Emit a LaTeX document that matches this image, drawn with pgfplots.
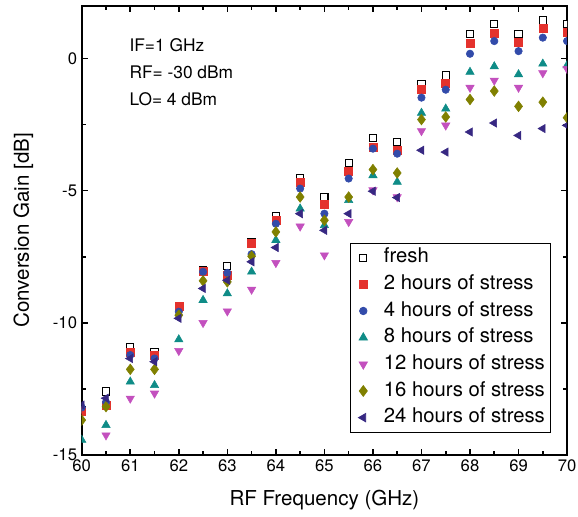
\documentclass[border=0pt]{standalone}
\usepackage{fontspec}
\setmainfont{TeX Gyre Heros}
\usepackage{pgfplots}
\pgfplotsset{compat=1.18}

\definecolor{cred}{RGB}{228,50,45}
\definecolor{cblue}{RGB}{50,75,170}
\definecolor{cteal}{RGB}{15,140,135}
\definecolor{cmag}{RGB}{195,80,190}
\definecolor{colive}{RGB}{128,128,0}
\definecolor{cind}{RGB}{55,40,130}

\begin{document}
\begin{tikzpicture}
\useasboundingbox (0pt,0pt) rectangle (433.5pt,387.75pt);
\begin{axis}[
    at={(61.3pt,46.5pt)}, anchor=south west,
    scale only axis, width=364pt, height=337pt,
    xmin=60, xmax=70, ymin=-15, ymax=2,
    xtick={60,61,...,70}, minor x tick num=1,
    ytick={-15,-10,-5,0}, minor y tick num=1,
    tick align=inside,
    major tick length=4.5pt, minor tick length=3pt,
    axis line style={line width=1.6pt},
    every tick/.style={line width=1.2pt, black},
    /pgf/number format/assume math mode=true,
    ticklabel style={font=\fontsize{12.5}{14}\selectfont},
    xlabel={RF Frequency (GHz)},
    ylabel={Conversion Gain [dB]},
    label style={font=\fontsize{15.4}{18}\selectfont},
    xlabel style={yshift=-7pt},
    ylabel style={yshift=8pt},
    clip marker paths=true,
    legend image code/.code={\path[draw=none] (0pt,0pt) -- (18pt,0pt);
        \path[#1, draw=none, fill=none] plot[only marks] coordinates {(9pt,0pt)};},
    legend style={at={(0.966,0.0496)}, anchor=south east,
        draw=black, line width=0.6pt,
        font=\fontsize{15.2}{17}\selectfont,
        cells={anchor=west},
        nodes={inner ysep=3.1pt, inner xsep=3pt, text height=10.8pt, text depth=3pt},
        row sep=0pt, column sep=3.5pt, inner sep=1pt},
    legend cell align=left,
]

% fresh
\addplot[only marks, mark=square*, mark size=2.7pt, mark options={fill=white, draw=black, line width=0.8pt}] coordinates {
(60,-13.3) (60.5,-12.6) (61,-10.93) (61.5,-11.1) (62,-9.35) (62.5,-8.0) (63,-7.86) (63.5,-6.95)
(64,-5.97) (64.5,-4.54) (65,-5.24) (65.5,-3.95) (66,-3.0) (66.5,-3.16) (67,-0.95) (67.5,-0.64)
(68,0.94) (68.5,1.31) (69,0.94) (69.5,1.44) (70,1.29)
};
\addlegendentry{fresh}

% 2 hours
\addplot[only marks, mark=square*, mark size=3pt, color=cred, mark options={fill=cred, draw=cred}] coordinates {
(60,-13.34) (60.5,-13.1) (61,-11.1) (61.5,-11.22) (62,-9.37) (62.5,-8.03) (63,-8.2) (63.5,-7.0)
(64,-6.12) (64.5,-4.7) (65,-5.51) (65.5,-4.25) (66,-3.37) (66.5,-3.47) (67,-1.18) (67.5,-0.93)
(68,0.56) (68.5,0.94) (69,0.62) (69.5,1.13) (70,1.0)
};
\addlegendentry{2 hours of stress}

% 4 hours
\addplot[only marks, mark=*, mark size=2.8pt, color=cblue, mark options={fill=cblue, draw=cblue}] coordinates {
(60,-13.2) (60.5,-13.0) (61,-11.22) (61.5,-11.35) (62,-9.58) (62.5,-8.07) (63,-8.11) (63.5,-7.4)
(64,-6.25) (64.5,-4.92) (65,-5.87) (65.5,-4.54) (66,-3.41) (66.5,-3.6) (67,-1.48) (67.5,-1.18)
(68,0.18) (68.5,0.66) (69,0.28) (69.5,0.79) (70,0.66)
};
\addlegendentry{4 hours of stress}

% 8 hours
\addplot[only marks, mark=triangle*, mark size=3.6pt, color=cteal, mark options={fill=cteal, draw=cteal}] coordinates {
(60,-14.43) (60.5,-13.87) (61,-12.23) (61.5,-12.36) (62,-10.63) (62.5,-9.14) (63,-8.89) (63.5,-8.07)
(64,-6.87) (64.5,-5.68) (65,-6.31) (65.5,-5.36) (66,-4.42) (66.5,-4.67) (67,-2.06) (67.5,-1.9)
(68,-0.51) (68.5,-0.3) (69,-0.6) (69.5,-0.2) (70,-0.26)
};
\addlegendentry{8 hours of stress}

% 12 hours
\addplot[only marks, mark=triangle*, mark size=3.6pt, color=cmag, mark options={rotate=180, fill=cmag, draw=cmag}] coordinates {
(60,-15.25) (60.5,-14.25) (61,-12.86) (61.5,-12.67) (62,-11.06) (62.5,-10.0) (63,-9.56) (63.5,-8.74)
(64,-7.73) (64.5,-6.35) (65,-7.44) (65.5,-6.18) (66,-4.98) (66.5,-5.24) (67,-2.74) (67.5,-2.53)
(68,-1.1) (68.5,-0.83) (69,-1.1) (69.5,-0.55) (70,-0.39)
};
\addlegendentry{12 hours of stress}

% 16 hours
\addplot[only marks, mark=diamond*, mark size=4pt, color=colive, mark options={fill=colive, draw=colive}] coordinates {
(60,-13.68) (60.5,-13.17) (61,-11.76) (61.5,-11.76) (62,-9.71) (62.5,-8.41) (63,-8.45) (63.5,-7.48)
(64,-6.56) (64.5,-5.24) (65,-6.12) (65.5,-5.24) (66,-4.2) (66.5,-4.33) (67,-2.31) (67.5,-2.21)
(68,-1.55) (68.5,-1.23) (69,-1.81) (69.5,-1.65) (70,-2.24)
};
\addlegendentry{16 hours of stress}

% 24 hours
\addplot[only marks, mark=triangle*, mark size=3.6pt, color=cind, mark options={rotate=90, fill=cind, draw=cind}] coordinates {
(60,-13.11) (60.5,-12.85) (61,-11.35) (61.5,-11.47) (62,-9.83) (62.5,-8.7) (63,-8.39) (63.5,-7.69)
(64,-7.15) (64.5,-5.87) (65,-6.5) (65.5,-5.87) (66,-5.02) (66.5,-5.26) (67,-3.47) (67.5,-3.54)
(68,-2.78) (68.5,-2.44) (69,-2.91) (69.5,-2.65) (70,-2.53)
};
\addlegendentry{24 hours of stress}

\node[anchor=west, inner sep=0pt, font=\fontsize{13}{15}\selectfont] at (axis cs:60.98,0.495) {IF=1 GHz};
\node[anchor=west, inner sep=0pt, font=\fontsize{13}{15}\selectfont] at (axis cs:60.98,-0.525) {RF= -30 dBm};
\node[anchor=west, inner sep=0pt, font=\fontsize{13}{15}\selectfont] at (axis cs:60.98,-1.546) {LO= 4 dBm};
\end{axis}
\end{tikzpicture}
\end{document}
